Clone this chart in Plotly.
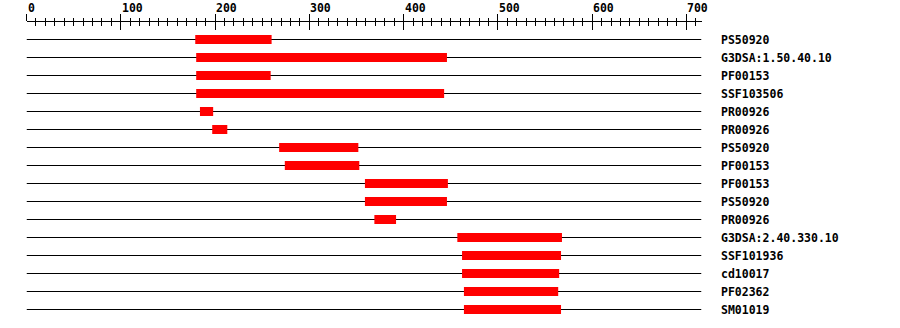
import plotly.graph_objects as go

# ---- data ----
SEQ_LEN = 716
domain_names = ["PS50920", "G3DSA:1.50.40.10", "PF00153", "SSF103506", "PR00926",
                "PR00926", "PS50920", "PF00153", "PF00153", "PS50920", "PR00926",
                "G3DSA:2.40.330.10", "SSF101936", "cd10017", "PF02362", "SM01019"]
domain_starts = [179, 180, 180, 180, 184, 197, 268, 274, 359, 359, 369, 457, 462, 462, 464, 464]
domain_ends = [260, 446, 259, 443, 198, 213, 352, 353, 447, 446, 392, 568, 567, 565, 564, 567]
tick_values = [0, 100, 200, 300, 400, 500, 600, 700]
tick_labels = ["0", "100", "200", "300", "400", "500", "600", "700"]

# ---- geometry ----
W, H = 900, 328
X0_PX, XEND_PX = 26.5, 701.5
ROW0_PX, ROW_STEP = 39.5, 18
RULER_PX = 20.5
FONT = dict(family="DejaVu Sans Mono", size=11.5, color="black", weight="bold")

n = len(domain_names)
rows = list(range(n))

fig = go.Figure()

# backbone lines (thin bars so the domain bars sit on top)
fig.add_trace(go.Bar(y=rows, base=[0] * n, x=[SEQ_LEN] * n, orientation="h",
                     width=1 / ROW_STEP, marker=dict(color="black", line=dict(width=0)),
                     hoverinfo="skip", xaxis="x", yaxis="y"))

# domain bars
fig.add_trace(go.Bar(y=rows, base=domain_starts,
                     x=[e - s for s, e in zip(domain_starts, domain_ends)],
                     orientation="h", width=9 / ROW_STEP,
                     marker=dict(color="#ff0000", line=dict(width=0)),
                     xaxis="x", yaxis="y"))
# dummy trace for the lower half of ruler ticks
fig.add_trace(go.Scatter(x=[None], y=[None], xaxis="x2", yaxis="y", showlegend=False))

y_top = -ROW0_PX / ROW_STEP
y_bot = (H - ROW0_PX) / ROW_STEP
ruler_pos = 1 - RULER_PX / H
dom = [X0_PX / W, XEND_PX / W]

common = dict(domain=dom, range=[0, SEQ_LEN], anchor="free", position=ruler_pos,
              side="top", tick0=0, dtick=100, showgrid=False, zeroline=False,
              showticklabels=False, tickcolor="black", tickwidth=1)

fig.update_layout(
    width=W, height=H, margin=dict(l=0, r=0, t=0, b=0),
    paper_bgcolor="white", plot_bgcolor="white", showlegend=False,
    barmode="overlay",
    xaxis=dict(**common, showline=True, linecolor="black", linewidth=1,
               ticks="outside", ticklen=7,
               minor=dict(dtick=10, tick0=0, ticks="outside", ticklen=3,
                          tickcolor="black", tickwidth=1, showgrid=False)),
    xaxis2=dict(**common, overlaying="x", showline=False,
                ticks="inside", ticklen=8,
                minor=dict(dtick=10, tick0=0, ticks="inside", ticklen=4,
                           tickcolor="black", tickwidth=1, showgrid=False)),
    yaxis=dict(domain=[0, 1], range=[y_bot, y_top], visible=False, fixedrange=True),
)

for v, t in zip(tick_values, tick_labels):
    fig.add_annotation(x=v, xref="x", y=1 - 8 / H, yref="paper", text=t,
                       showarrow=False, xanchor="left", yanchor="middle",
                       borderpad=0, font=FONT)

for i, name in enumerate(domain_names):
    fig.add_annotation(x=720 / W, xref="paper", y=i, yref="y", text=name,
                       showarrow=False, xanchor="left", yanchor="middle",
                       borderpad=0, font=FONT)

fig.write_html("out.html")
